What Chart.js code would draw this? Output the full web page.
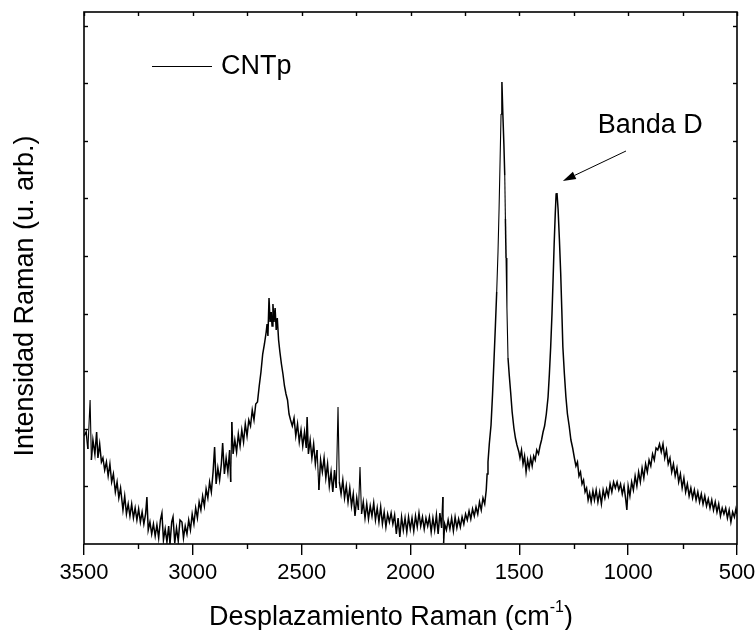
<!DOCTYPE html>
<html>
<head>
<meta charset="utf-8">
<script src="https://cdn.jsdelivr.net/npm/chart.js@4.4.1/dist/chart.umd.min.js"></script>
<style>
  html, body { margin: 0; padding: 0; background: #ffffff; }
  #wrap { width: 756px; height: 630px; }
</style>
</head>
<body>
<div id="wrap"><canvas id="c" width="756" height="630"></canvas></div>
<script>
// Raman shift (cm-1)
const ramanShift = [3500,3490,3482,3472,3466,3459,3450,3442,3436,3428,3420,3413,3405,3397,3389,3381,3373,3365,3356,3348,3340,3332,3321,3313,3305,3297,3289,3281,3273,3265,3257,3249,3241,3233,3225,3217,3211,3205,3197,3189,3181,3173,3165,3157,3149,3142,3135,3127,3119,3111,3105,3097,3091,3083,3075,3067,3059,3050,3043,3035,3027,3019,3011,3003,2995,2987,2979,2971,2963,2955,2947,2939,2931,2923,2915,2907,2900,2893,2885,2877,2869,2863,2855,2847,2839,2831,2826,2821,2815,2807,2799,2791,2783,2775,2767,2759,2751,2743,2735,2727,2719,2711,2703,2695,2687,2679,2671,2663,2659,2655,2650,2645,2640,2636,2632,2627,2622,2617,2612,2606,2600,2593,2586,2579,2572,2565,2558,2551,2543,2535,2527,2519,2511,2503,2495,2487,2479,2475,2469,2461,2453,2445,2437,2429,2421,2413,2405,2397,2389,2381,2373,2365,2357,2349,2341,2333,2327,2319,2311,2303,2295,2287,2279,2271,2263,2255,2247,2239,2232,2225,2217,2209,2201,2193,2185,2177,2169,2161,2153,2145,2137,2129,2121,2113,2105,2097,2089,2081,2073,2065,2057,2049,2041,2033,2025,2017,2009,2001,1993,1985,1977,1969,1961,1953,1945,1937,1929,1921,1913,1905,1897,1889,1881,1873,1865,1857,1851,1848,1843,1835,1827,1819,1811,1803,1795,1787,1779,1771,1763,1755,1747,1739,1731,1723,1715,1707,1699,1691,1683,1675,1667,1659,1652,1648,1644,1638,1630,1623,1616,1610,1604,1598,1593,1588,1584,1580,1576,1571,1567,1564,1561,1557,1552,1546,1540,1533,1525,1518,1511,1502,1497,1490,1483,1476,1469,1462,1455,1448,1441,1434,1427,1420,1412,1405,1398,1391,1384,1376,1368,1362,1356,1350,1345,1340,1335,1331,1327,1322,1316,1310,1305,1300,1293,1286,1279,1271,1263,1255,1247,1240,1233,1226,1219,1212,1205,1198,1191,1184,1177,1170,1162,1155,1147,1139,1131,1123,1115,1107,1099,1091,1083,1075,1067,1059,1051,1043,1035,1027,1019,1011,1006,1000,992,984,976,968,960,952,944,936,928,920,912,904,896,888,880,872,864,856,848,840,832,824,816,808,800,792,784,776,768,760,752,744,736,728,720,712,704,696,688,680,672,664,656,648,640,632,624,616,608,600,592,584,576,568,560,552,544,536,528,520,512,505,500];

// Raman intensity (arbitrary units)
const intensityCNTp = [108,112,95,144,84,104,90,112,86,100,82,86,74,82,68,80,62,70,52,62,46,56,34,48,30,40,28,40,26,36,24,35,22,32,20,30,47,14,22,10,20,8,19,6,24,31,4,15,2,18,0,22,27,1,16,3,24,22,6,18,10,24,14,30,20,36,26,42,34,48,38,55,46,62,52,72,97,60,76,64,80,101,70,86,72,94,62,122,90,104,92,110,98,114,102,120,108,124,118,134,124,140,142,158,172,190,200,212,220,208,246,222,232,218,240,222,236,214,226,204,192,180,170,158,150,144,130,124,118,126,108,120,102,114,98,112,96,127,90,104,86,100,80,94,54,84,72,86,66,80,58,72,52,74,56,137,62,50,64,46,58,42,56,38,50,28,46,34,77,30,42,26,40,25,38,28,41,24,36,22,37,20,32,17,30,22,31,20,29,10,26,7,27,14,26,12,27,15,26,13,28,17,31,18,27,15,26,18,27,12,26,14,29,10,31,16,47,1,20,14,24,15,26,13,27,16,25,17,27,20,30,24,33,25,35,28,37,30,42,34,46,40,54,70,82,100,119,150,186,218,252,292,336,388,430,462,432,400,369,325,286,236,186,168,152,132,116,106,99,92,86,94,80,88,72,84,76,86,78,88,84,94,90,98,104,112,118,130,147,170,197,230,264,300,330,350,351,335,305,271,235,197,170,147,130,118,104,96,86,78,82,68,72,60,64,52,56,44,51,42,53,44,54,42,52,40,54,46,55,48,60,52,62,56,62,54,60,50,58,44,34,58,48,62,54,68,58,72,62,76,66,80,72,84,78,90,84,96,94,100,92,100,86,94,80,86,72,80,68,76,62,70,56,66,52,60,48,56,46,54,44,52,42,50,40,48,38,45,36,44,34,42,32,40,28,36,30,36,26,34,22,32,27,35,30];

const xTickLabels = ['3500','3000','2500','2000','1500','1000','500'];
const seriesName = 'CNTp';
const annotationText = 'Banda D';
const xTitleMain = 'Desplazamiento Raman (cm';
const xTitleSup = '-1';
const xTitleEnd = ')';
const yTitle = 'Intensidad Raman (u. arb.)';

const FONT = "'Liberation Sans', Arial, Helvetica, sans-serif";

const points = ramanShift.map((v, i) => ({ x: v, y: intensityCNTp[i] }));

const decorPlugin = {
  id: 'decor',
  afterDraw(chart) {
    const ctx = chart.ctx;
    const a = chart.chartArea;
    const xs = chart.scales.x, ys = chart.scales.y;
    ctx.save();
    ctx.strokeStyle = '#000';
    ctx.fillStyle = '#000';

    // frame
    ctx.lineWidth = 1.6;
    ctx.strokeRect(a.left, a.top, a.right - a.left, a.bottom - a.top);

    // bottom minor ticks (outward), top ticks (inward)
    ctx.lineWidth = 1.4;
    for (let v = 500; v <= 3500; v += 250) {
      const px = Math.round(xs.getPixelForValue(v)) + 0.5;
      if (v % 500 !== 0) {
        ctx.beginPath(); ctx.moveTo(px, a.bottom); ctx.lineTo(px, a.bottom + 5); ctx.stroke();
      }
      ctx.beginPath(); ctx.moveTo(px, a.top); ctx.lineTo(px, a.top + 4); ctx.stroke();
    }
    // left / right inward ticks
    for (let k = 1; k <= 9; k++) {
      const py = Math.round(ys.getPixelForValue(k * 57.6)) + 0.5;
      ctx.beginPath(); ctx.moveTo(a.left, py); ctx.lineTo(a.left + 4, py); ctx.stroke();
      ctx.beginPath(); ctx.moveTo(a.right, py); ctx.lineTo(a.right - 4, py); ctx.stroke();
    }

    // legend
    ctx.lineWidth = 1;
    ctx.beginPath(); ctx.moveTo(152, 66.5); ctx.lineTo(212, 66.5); ctx.stroke();
    ctx.font = '27px ' + FONT;
    ctx.textBaseline = 'alphabetic';
    ctx.textAlign = 'left';
    ctx.fillText(seriesName, 221, 74);

    // annotation "Banda D" with arrow
    ctx.font = '27px ' + FONT;
    ctx.fillText(annotationText, xs.getPixelForValue(1140), ys.getPixelForValue(411));
    const tx = xs.getPixelForValue(1010), ty = ys.getPixelForValue(393);
    const hx = xs.getPixelForValue(1300), hy = ys.getPixelForValue(363);
    const ang = Math.atan2(hy - ty, hx - tx);
    const hl = 13, hw = 4;
    const bx = hx - hl * Math.cos(ang), by = hy - hl * Math.sin(ang);
    ctx.lineWidth = 1;
    ctx.beginPath(); ctx.moveTo(tx, ty); ctx.lineTo(bx, by); ctx.stroke();
    ctx.beginPath();
    ctx.moveTo(hx, hy);
    ctx.lineTo(bx + hw * Math.sin(ang), by - hw * Math.cos(ang));
    ctx.lineTo(bx - hw * Math.sin(ang), by + hw * Math.cos(ang));
    ctx.closePath(); ctx.fill();

    // x axis title with superscript
    const mainF = '27px ' + FONT, supF = '16px ' + FONT;
    ctx.font = mainF; const w1 = ctx.measureText(xTitleMain).width; const w3 = ctx.measureText(xTitleEnd).width;
    ctx.font = supF; const w2 = ctx.measureText(xTitleSup).width;
    let x0 = 391 - (w1 + w2 + w3) / 2;
    const base = 625;
    ctx.font = mainF; ctx.fillText(xTitleMain, x0, base); x0 += w1;
    ctx.font = supF; ctx.fillText(xTitleSup, x0, base - 13); x0 += w2;
    ctx.font = mainF; ctx.fillText(xTitleEnd, x0, base);

    // y axis title
    ctx.save();
    ctx.translate(33, 296);
    ctx.rotate(-Math.PI / 2);
    ctx.textAlign = 'center';
    ctx.font = '27px ' + FONT;
    ctx.fillText(yTitle, 0, 0);
    ctx.restore();

    ctx.restore();
  }
};

new Chart(document.getElementById('c'), {
  type: 'line',
  data: {
    datasets: [{
      label: seriesName,
      data: points,
      borderColor: '#000',
      borderWidth: 1.25,
      segment: {
        // noisy baseline stretches look denser in the reference
        borderWidth: (c) => Math.abs(c.p1.parsed.y - c.p0.parsed.y) < 40 ? 1.5 : 1.1
      },
      pointRadius: 0,
      tension: 0,
      fill: false
    }]
  },
  options: {
    responsive: false,
    devicePixelRatio: 1,
    animation: false,
    layout: { padding: { left: 0, top: 12, right: 19, bottom: 0 } },
    plugins: { legend: { display: false }, tooltip: { enabled: false } },
    scales: {
      x: {
        type: 'linear',
        reverse: true,
        min: 500,
        max: 3500,
        position: 'bottom',
        ticks: {
          stepSize: 500,
          autoSkip: false,
          maxRotation: 0,
          color: '#000',
          padding: 5,
          font: { family: FONT, size: 22 },
          callback: (v) => xTickLabels.includes(String(v)) ? String(v) : ''
        },
        grid: { display: true, drawOnChartArea: false, drawTicks: true, tickLength: 11, color: '#000', lineWidth: 1.4 },
        border: { display: false },
        afterFit: (s) => { s.height = 86; s.paddingLeft = 0; s.paddingRight = 0; }
      },
      y: {
        min: 0,
        max: 532,
        ticks: { display: false },
        grid: { display: false },
        border: { display: false },
        afterFit: (s) => { s.width = 84; s.paddingTop = 0; s.paddingBottom = 0; }
      }
    }
  },
  plugins: [decorPlugin]
});
</script>
</body>
</html>
